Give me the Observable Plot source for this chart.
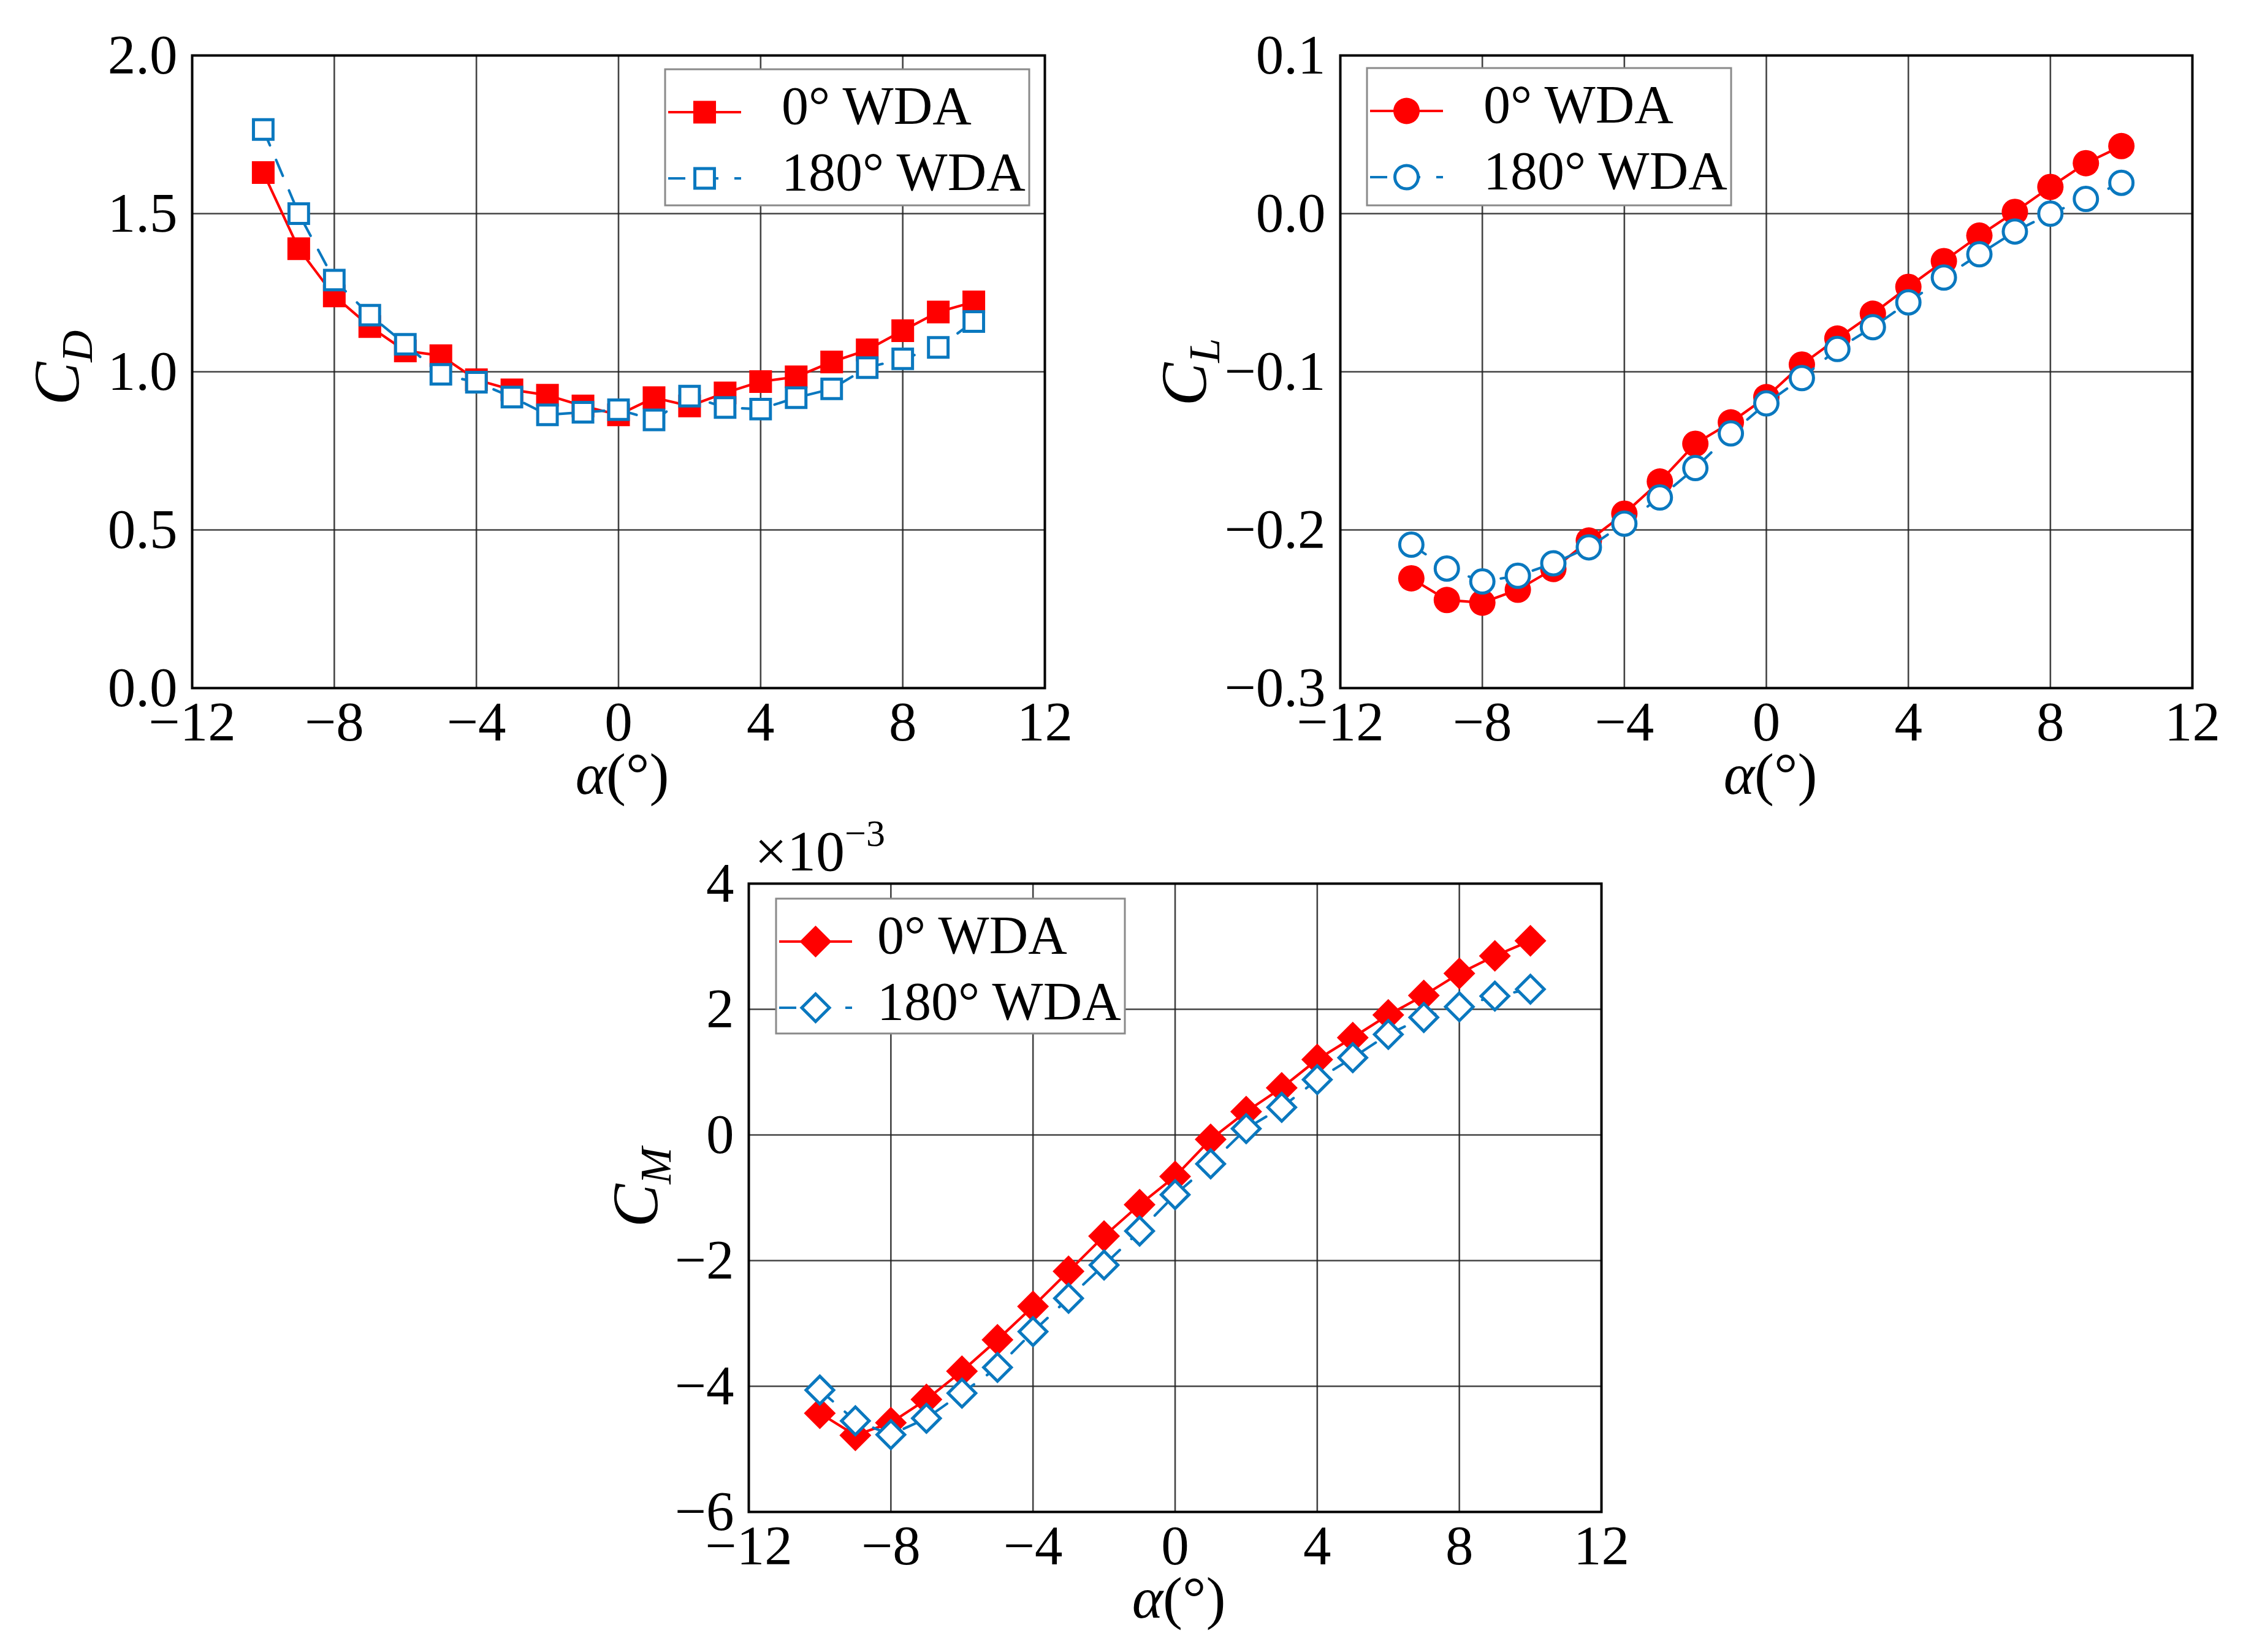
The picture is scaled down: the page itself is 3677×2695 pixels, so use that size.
<!DOCTYPE html>
<html>
<head>
<meta charset="utf-8">
<script src="https://cdn.jsdelivr.net/npm/d3@7"></script>
<script src="https://cdn.jsdelivr.net/npm/@observablehq/plot@0.6"></script>
<style>
  html, body { margin: 0; padding: 0; background: #fff; }
  #fig { position: relative; width: 3677px; height: 2695px; background: #fff; overflow: hidden; }
  .panel { position: absolute; }
  .panel svg { max-width: none !important; }
  #overlay { position: absolute; left: 0; top: 0; pointer-events: none; }
</style>
</head>
<body>
<div id="fig"></div>
<script>
// ---------------- data ----------------
const alpha = [-10, -9, -8, -7, -6, -5, -4, -3, -2, -1, 0, 1, 2, 3, 4, 5, 6, 7, 8, 9, 10];
const seriesNames = ["0° WDA", "180° WDA"];

// Drag coefficient C_D
const cdRed  = [1.630, 1.389, 1.240, 1.143, 1.066, 1.051, 0.975, 0.943, 0.926, 0.892, 0.864, 0.918, 0.892, 0.933, 0.969, 0.984, 1.031, 1.069, 1.130, 1.189, 1.221];
const cdBlue = [1.766, 1.500, 1.290, 1.179, 1.087, 0.992, 0.967, 0.920, 0.864, 0.872, 0.880, 0.848, 0.923, 0.887, 0.882, 0.918, 0.946, 1.013, 1.041, 1.077, 1.159];

// Lift coefficient C_L
const clRed  = [-0.2306, -0.2443, -0.2460, -0.2378, -0.2247, -0.2067, -0.1897, -0.1694, -0.1455, -0.1320, -0.1160, -0.0954, -0.0790, -0.0633, -0.0463, -0.0300, -0.0139, 0.0011, 0.0169, 0.0319, 0.0427];
const clBlue = [-0.2093, -0.2244, -0.2326, -0.2290, -0.2211, -0.2110, -0.1960, -0.1795, -0.1609, -0.1390, -0.1200, -0.1040, -0.0856, -0.0718, -0.0561, -0.0404, -0.0257, -0.0113, 0.0000, 0.0093, 0.0195];

// Moment coefficient C_M (in units of 1e-3)
const cmRed  = [-4.43, -4.78, -4.58, -4.21, -3.76, -3.26, -2.73, -2.17, -1.61, -1.11, -0.66, -0.07, 0.37, 0.75, 1.20, 1.55, 1.91, 2.22, 2.57, 2.85, 3.09];
const cmBlue = [-4.06, -4.55, -4.77, -4.51, -4.11, -3.70, -3.13, -2.60, -2.07, -1.53, -0.95, -0.46, 0.10, 0.44, 0.88, 1.23, 1.60, 1.87, 2.04, 2.21, 2.32];

// ticks
const xTicks  = [-12, -8, -4, 0, 4, 8, 12];
const cdTicks = [0, 0.5, 1.0, 1.5, 2.0];
const clTicks = [-0.3, -0.2, -0.1, 0.0, 0.1];
const cmTicks = [-6, -4, -2, 0, 2, 4];

// ---------------- style ----------------
const RED = "#ff0000";
const BLUE = "#0a78bf";
const FONT = "'Liberation Serif', 'Times New Roman', Times, serif";
const TICK_FS = 91;
const LEG_FS = 88;

const panels = [
  { left: 313,  top: 90,   w: 1391, h: 1032, yDomain: [0, 2],      yTicks: cdTicks, fmt: d3.format(".1f"),
    red: cdRed, blue: cdBlue, symbol: "square",   rRed: 20.9, rBlue: 18.0,
    ylab: ["C", "D"], ylabX: 128, ylabY: 600, xlabX: 1015, xlabY: 1295,
    legend: { x: 1085, y: 113, w: 594, h: 222, textX: 190 } },
  { left: 2186, top: 90,   w: 1390, h: 1032, yDomain: [-0.3, 0.1], yTicks: clTicks, fmt: d3.format(".1f"),
    red: clRed, blue: clBlue, symbol: "circle",   rRed: 21.5, rBlue: 19.0,
    ylab: ["C", "L"], ylabX: 1967, ylabY: 607, xlabX: 2888, xlabY: 1295,
    legend: { x: 2230, y: 111, w: 594, h: 224, textX: 190 } },
  { left: 1221, top: 1441, w: 1391, h: 1025, yDomain: [-6, 4],     yTicks: cmTicks, fmt: d3.format("d"),
    red: cmRed, blue: cmBlue, symbol: "diamond2", rRed: 23.4, rBlue: 20.3,
    ylab: ["C", "M"], ylabX: 1072, ylabY: 1937, xlabX: 1923, xlabY: 2639,
    legend: { x: 1266, y: 1466, w: 569, h: 220, textX: 165 } }
];

const fig = document.getElementById("fig");
const mL = 300, mR = 40, mT = 40, mB = 200;

for (const p of panels) {
  const redData  = alpha.map((a, i) => ({ a, v: p.red[i] }));
  const blueData = alpha.map((a, i) => ({ a, v: p.blue[i] }));
  const chart = Plot.plot({
    width: mL + p.w + mR,
    height: mT + p.h + mB,
    marginLeft: mL, marginRight: mR, marginTop: mT, marginBottom: mB,
    style: { fontFamily: FONT, fontSize: TICK_FS + "px", background: "transparent", color: "#000", overflow: "visible" },
    x: { domain: [-12, 12], ticks: xTicks, tickFormat: d3.format("d"), tickSize: 0, tickPadding: 21, label: null },
    y: { domain: p.yDomain, ticks: p.yTicks, tickFormat: p.fmt, tickSize: 0, tickPadding: 24, label: null },
    marks: [
      Plot.gridX(xTicks, { stroke: "#222", strokeOpacity: 0.85, strokeWidth: 2.6 }),
      Plot.gridY(p.yTicks, { stroke: "#222", strokeOpacity: 0.85, strokeWidth: 2.6 }),
      Plot.line(redData, { x: "a", y: "v", stroke: RED, strokeWidth: 4.2 }),
      Plot.dot(redData, { x: "a", y: "v", symbol: p.symbol, r: p.rRed, fill: RED, stroke: "none" }),
      Plot.line(blueData, { x: "a", y: "v", stroke: BLUE, strokeWidth: 4.2, strokeDasharray: "28,26" }),
      Plot.dot(blueData, { x: "a", y: "v", symbol: p.symbol, r: p.rBlue, fill: "#fff", stroke: BLUE, strokeWidth: 5 }),
      Plot.frame({ stroke: "#000", strokeWidth: 4 })
    ]
  });
  const div = document.createElement("div");
  div.className = "panel";
  div.style.left = (p.left - mL) + "px";
  div.style.top = (p.top - mT) + "px";
  div.appendChild(chart);
  fig.appendChild(div);
}

// ---------------- overlay: axis labels, legends, multiplier ----------------
const svg = d3.select(fig).append("svg")
  .attr("id", "overlay")
  .attr("width", 3677).attr("height", 2695)
  .style("font-family", FONT);

for (const p of panels) {
  // y label C_x (rotated)
  const yl = svg.append("text")
    .attr("transform", `translate(${p.ylabX},${p.ylabY}) rotate(-90)`)
    .attr("text-anchor", "middle")
    .attr("font-style", "italic")
    .attr("fill", "#000");
  yl.append("tspan").attr("font-size", 106).text(p.ylab[0]);
  yl.append("tspan").attr("font-size", 72).attr("dy", 22).text(p.ylab[1]);

  // x label α(°)
  const xl = svg.append("text")
    .attr("x", p.xlabX).attr("y", p.xlabY)
    .attr("text-anchor", "middle")
    .attr("font-size", 96)
    .attr("fill", "#000");
  xl.append("tspan").attr("font-style", "italic").text("α");
  xl.append("tspan").text("(°)");

  // legend
  const L = p.legend;
  const g = svg.append("g").attr("transform", `translate(${L.x},${L.y})`);
  g.append("rect").attr("width", L.w).attr("height", L.h)
    .attr("fill", "#fff").attr("stroke", "#8a8a8a").attr("stroke-width", 3);
  const rows = [
    { cy: 70,  name: seriesNames[0], color: RED,  filled: true,  r: p.rRed },
    { cy: 178, name: seriesNames[1], color: BLUE, filled: false, r: p.rBlue }
  ];
  const symMap = { square: d3.symbolSquare, circle: d3.symbolCircle, diamond2: d3.symbolDiamond2 };
  for (const row of rows) {
    g.append("line")
      .attr("x1", 5).attr("x2", 124).attr("y1", row.cy).attr("y2", row.cy)
      .attr("stroke", row.color).attr("stroke-width", 4.2)
      .attr("stroke-dasharray", row.filled ? null : "28,26");
    g.append("path")
      .attr("transform", `translate(64.5,${row.cy})`)
      .attr("d", d3.symbol(symMap[p.symbol], Math.PI * row.r * row.r)())
      .attr("fill", row.filled ? row.color : "#fff")
      .attr("stroke", row.filled ? "none" : row.color)
      .attr("stroke-width", row.filled ? 0 : 5);
    g.append("text")
      .attr("x", L.textX).attr("y", row.cy + 19)
      .attr("font-size", LEG_FS).attr("fill", "#000")
      .text(row.name);
  }
}

// ×10^−3 multiplier for C_M
const mult = svg.append("text").attr("x", 1231).attr("y", 1420).attr("fill", "#000").attr("font-size", 94);
mult.append("tspan").text("×10");
mult.append("tspan").attr("font-size", 62).attr("dy", -40).text("−3");
</script>
</body>
</html>
